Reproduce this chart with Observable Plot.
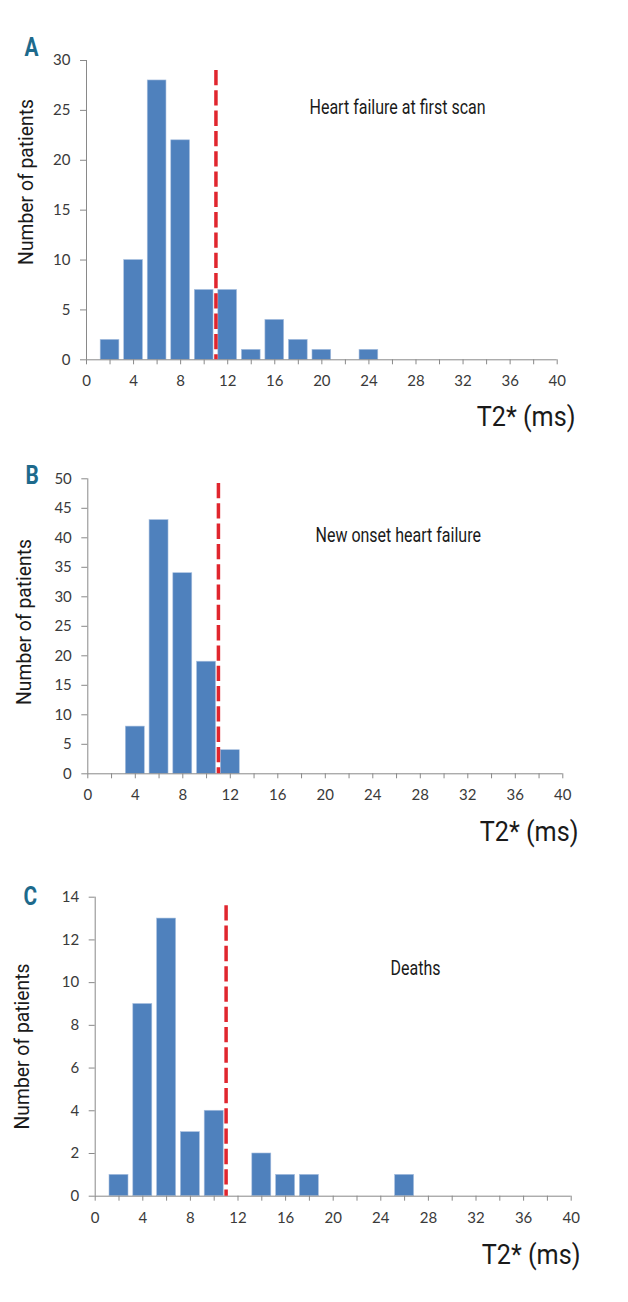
<!DOCTYPE html>
<html>
<head>
<meta charset="utf-8">
<script src="https://cdn.jsdelivr.net/npm/d3@7"></script>
<script src="https://cdn.jsdelivr.net/npm/@observablehq/plot@0.6"></script>
<style>
  html, body { margin: 0; padding: 0; background: #fff; }
  #chart { width: 628px; }
  #chart svg { display: block; }
</style>
</head>
<body>
<div id="chart"></div>
<script>
// ---------- data ----------
const centersA = [2, 4, 6, 8, 10, 12, 14, 16, 18, 20, 22, 24];
const countsA  = [2, 10, 28, 22, 7, 7, 1, 4, 2, 1, 0, 1];
const centersB = [4, 6, 8, 10, 12];
const countsB  = [8, 43, 34, 19, 4];
const centersC = [2, 4, 6, 8, 10, 12, 14, 16, 18, 20, 22, 24, 26];
const countsC  = [1, 9, 13, 3, 4, 0, 2, 1, 1, 0, 0, 0, 1];
const binWidth = 2;
const threshold = 11;
const thresholdTops = [29, 49.2, 13.6];
const yTicksA = [0, 5, 10, 15, 20, 25, 30];
const yTicksB = [0, 5, 10, 15, 20, 25, 30, 35, 40, 45, 50];
const yTicksC = [0, 2, 4, 6, 8, 10, 12, 14];
const xTicks = [0, 2, 4, 6, 8, 10, 12, 14, 16, 18, 20, 22, 24, 26, 28, 30, 32, 34, 36, 38, 40];
const xLabelTicks = [0, 4, 8, 12, 16, 20, 24, 28, 32, 36, 40];
const xDomain = [0, 40];
const panelLetters = ["A", "B", "C"];
const panelTitles = ["Heart failure at first scan", "New onset heart failure", "Deaths"];
const xTitle = "T2* (ms)";
const yTitle = "Number of patients";

// ---------- layout (positions / styles only) ----------
const cond = "Roboto, 'Liberation Sans', sans-serif";
const layouts = [
  {height: 440, mt: 60, mb: 80.7, ml: 86, mr: 71.3,
   letter: [-62, -5], title: [223, 53], xt: [18.3, 65.7], yt: [-60.5, -28.2]},
  {height: 430, mt: 38.3, mb: 96.7, ml: 87.3, mr: 65.7,
   letter: [-62.3, 4.7], title: [227.7, 63.4], xt: [15.7, 66.7], yt: [-63.8, -4.3]},
  {height: 432, mt: 26.7, mb: 106.3, ml: 94.7, mr: 57.3,
   letter: [-71.7, 7.3], title: [295.3, 77.3], xt: [9.3, 67.3], yt: [-73.2, -0.2]}
];
const panels = [
  {centers: centersA, counts: countsA, yTicks: yTicksA},
  {centers: centersB, counts: countsB, yTicks: yTicksB},
  {centers: centersC, counts: countsC, yTicks: yTicksC}
];

const axisGray = "#898989";
const labelColor = "#3a3a3a";
const labelSet = new Set(xLabelTicks);
const container = document.getElementById("chart");

panels.forEach((p, i) => {
  const L = layouts[i];
  const rows = p.centers.map((c, j) => ({c, n: p.counts[j]})).filter(d => d.n > 0);
  const yMax = p.yTicks[p.yTicks.length - 1];
  const svg = Plot.plot({
    width: 628,
    height: L.height,
    marginTop: L.mt, marginBottom: L.mb, marginLeft: L.ml, marginRight: L.mr,
    style: {fontFamily: "Lato, 'Open Sans', sans-serif", fontSize: "15px", color: labelColor, background: "#fff", overflow: "visible"},
    x: {domain: xDomain},
    y: {domain: [0, yMax]},
    marks: [
      Plot.rect(rows, {
        x1: d => d.c - binWidth / 2, x2: d => d.c + binWidth / 2,
        y1: 0, y2: "n",
        insetLeft: 2.4, insetRight: 2.4,
        fill: "#4f81bd", stroke: "#a9c0df", strokeWidth: 0.6
      }),
      Plot.axisY(p.yTicks, {tickSize: 6, tickPadding: 10, stroke: axisGray, fill: labelColor, label: null, fontSize: 15}),
      Plot.axisX(xTicks, {tickSize: 5, tickPadding: 11, stroke: axisGray, fill: labelColor, label: null, fontSize: 15,
        tickFormat: d => labelSet.has(d) ? String(d) : ""}),
      Plot.ruleX([0], {stroke: axisGray, strokeWidth: 1}),
      Plot.ruleY([0], {stroke: axisGray, strokeWidth: 1}),
      Plot.ruleX([{x: threshold, top: thresholdTops[i]}], {
        x: "x", y1: "top", y2: 0,
        stroke: "#e0262e", strokeWidth: 3.5, strokeDasharray: "15.3,5"
      }),
      Plot.text([panelLetters[i]], {
        text: d => d, frameAnchor: "top-left", textAnchor: "start", lineAnchor: "bottom",
        dx: L.letter[0], dy: L.letter[1],
        fontFamily: cond, fontWeight: "bold", fontSize: 26, fill: "#1d6a8c"
      }),
      Plot.text([panelTitles[i]], {
        text: d => d, frameAnchor: "top-left", textAnchor: "start", lineAnchor: "bottom",
        dx: L.title[0], dy: L.title[1],
        fontFamily: cond, fontSize: 20, fill: "#1a1a1a"
      }),
      Plot.text([xTitle], {
        text: d => d, frameAnchor: "bottom-right", textAnchor: "end", lineAnchor: "bottom",
        dx: L.xt[0], dy: L.xt[1],
        fontFamily: cond, fontSize: 28, fill: "#1a1a1a"
      }),
      Plot.text([yTitle], {
        text: d => d, frameAnchor: "left", textAnchor: "middle", lineAnchor: "middle", rotate: -90,
        dx: L.yt[0], dy: L.yt[1],
        fontFamily: cond, fontSize: 21, fill: "#1a1a1a"
      })
    ]
  });
  container.appendChild(svg);
  // condense the title-like texts (mimics the condensed typeface of the original)
  const squeeze = new Map([
    [panelLetters[i], 0.8], [panelTitles[i], 0.8], [xTitle, 0.9], [yTitle, 0.92]
  ]);
  d3.select(svg).selectAll("text").each(function () {
    const f = squeeze.get(this.textContent);
    if (f) {
      const len = this.getComputedTextLength();
      d3.select(this).attr("textLength", (len * f).toFixed(1)).attr("lengthAdjust", "spacingAndGlyphs");
    }
  });
});
</script>
</body>
</html>
